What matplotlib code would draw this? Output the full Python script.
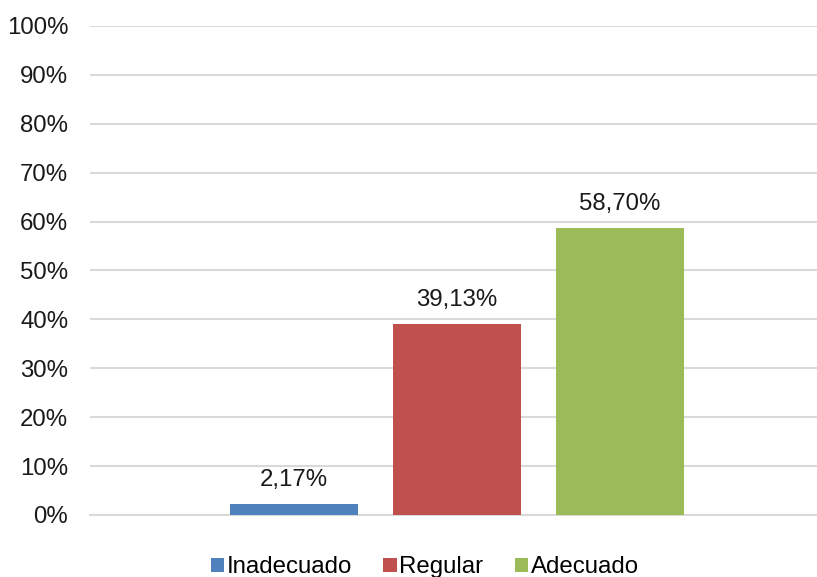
import matplotlib.pyplot as plt
from matplotlib.ticker import FuncFormatter

# niveles y porcentajes
niveles = ['Inadecuado', 'Regular', 'Adecuado']
porcentajes = [2.17, 39.13, 58.70]
colores = ['#4f81bd', '#c0504d', '#9bbb59']

plt.rcParams['font.family'] = ['Liberation Sans', 'DejaVu Sans']
plt.rcParams['font.size'] = 17.3

fig = plt.figure(figsize=(8.17, 5.77), dpi=100)
ax = fig.add_axes([0.110, 0.1075, 0.89, 0.8475])

for i, (nivel, valor, color) in enumerate(zip(niveles, porcentajes, colores)):
    ax.bar(i, valor, width=0.785, color=color, label=nivel, zorder=3)
    ax.annotate(f'{valor:.2f}%'.replace('.', ','), (i, valor),
                xytext=(0, 13), textcoords='offset points',
                ha='center', va='baseline', fontsize=17.3, color='#1a1a1a')

ax.set_xlim(-1.252, 3.209)
ax.set_ylim(0, 100)
ax.set_yticks(range(0, 101, 10))
ax.yaxis.set_major_formatter(FuncFormatter(lambda v, p: f'{v:.0f}%'))
ax.set_xticks([])
ax.tick_params(axis='y', length=0, pad=15.5, labelcolor='#1a1a1a')
ax.grid(axis='y', color='#d9d9d9', linewidth=1.5, zorder=0)
for lado in ['top', 'right', 'left']:
    ax.spines[lado].set_visible(False)
ax.spines['bottom'].set_color('#d9d9d9')
ax.spines['bottom'].set_linewidth(1.5)

fig.legend(loc='lower center', ncol=3, frameon=False, bbox_to_anchor=(0.52, -0.04),
           handlelength=0.55, handleheight=0.55, handletextpad=0.12,
           columnspacing=1.3, fontsize=17.3)

fig.savefig('out.png', dpi=100)
